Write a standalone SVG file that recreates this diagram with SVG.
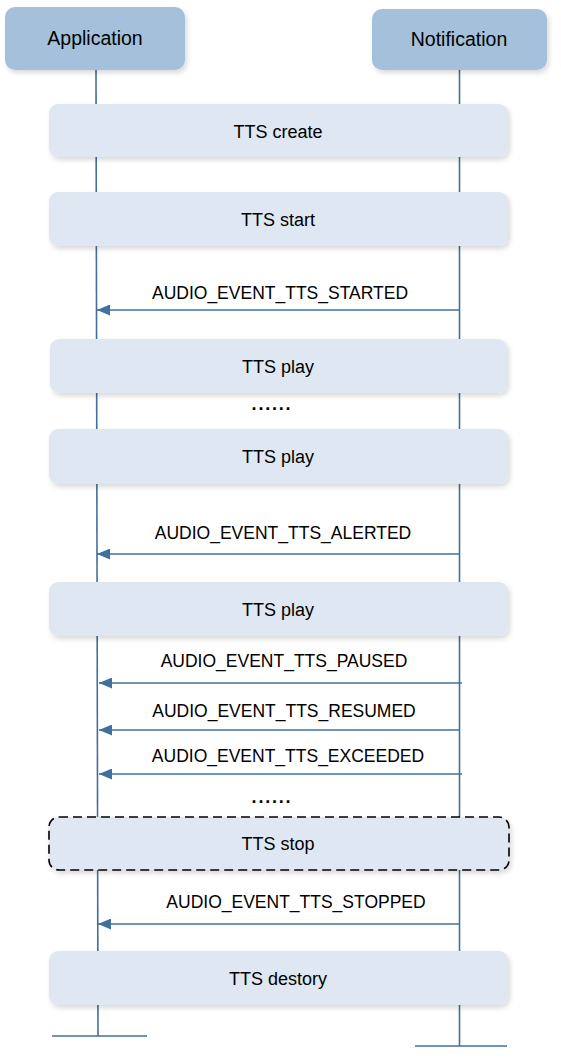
<svg xmlns="http://www.w3.org/2000/svg" width="561" height="1063" viewBox="0 0 561 1063">
<style>
.hdr{fill:#a4c0da;}
.act{fill:#dfe8f2;}
.life{stroke:#41709c;stroke-width:1.6;fill:none;}
.msg{stroke:#41709c;stroke-width:1.6;fill:none;}
text{font-family:"Liberation Sans",Arial,sans-serif;fill:#000;text-anchor:middle;}
.ht{font-size:19.5px;}
.at{font-size:18px;}
.mt{font-size:17.5px;}
.dots{font-size:18px;font-weight:bold;letter-spacing:1.8px;}
</style>
<defs>
<filter id="sh" x="-10%" y="-20%" width="120%" height="150%">
<feDropShadow dx="2" dy="3" stdDeviation="2.5" flood-color="#000" flood-opacity="0.15"/>
</filter>
<marker id="arr" viewBox="0 0 13 11" refX="13" refY="5.5" markerWidth="13" markerHeight="11" markerUnits="userSpaceOnUse" orient="auto">
<path d="M0,0 L13,5.5 L0,11 Z" fill="#41709c"/>
</marker>
</defs>
<g id="lifelines">
<line class="life" x1="96" y1="70" x2="98" y2="1036"/>
<line class="life" x1="459.5" y1="70" x2="459.5" y2="1046"/>
<line class="life" x1="52" y1="1036" x2="147" y2="1036"/>
<line class="life" x1="415" y1="1046" x2="507" y2="1046"/>
</g>
<g id="application">
<rect class="hdr" x="5" y="7" width="180" height="63" rx="10" filter="url(#sh)"/>
<text class="ht" x="95" y="45">Application</text>
</g>
<g id="notification">
<rect class="hdr" x="372" y="9" width="175" height="61" rx="10" filter="url(#sh)"/>
<text class="ht" x="459" y="46">Notification</text>
</g>
<g id="tts-create">
<rect class="act" x="49" y="104" width="459" height="53" rx="9" filter="url(#sh)"/>
<text class="at" x="278" y="138">TTS create</text>
</g>
<g id="tts-start">
<rect class="act" x="49" y="192" width="459" height="54" rx="9" filter="url(#sh)"/>
<text class="at" x="278" y="226">TTS start</text>
</g>
<g id="tts-play-1">
<rect class="act" x="50" y="339" width="457" height="54" rx="9" filter="url(#sh)"/>
<text class="at" x="278" y="373">TTS play</text>
</g>
<g id="tts-play-2">
<rect class="act" x="49" y="429" width="459" height="55" rx="9" filter="url(#sh)"/>
<text class="at" x="278" y="463">TTS play</text>
</g>
<g id="tts-play-3">
<rect class="act" x="49" y="582" width="459" height="54" rx="9" filter="url(#sh)"/>
<text class="at" x="278" y="616">TTS play</text>
</g>
<g id="tts-stop">
<rect class="act" x="49" y="817" width="460" height="53" rx="10" stroke="#000" stroke-width="1.6" stroke-dasharray="9,5" filter="url(#sh)"/>
<text class="at" x="278" y="850">TTS stop</text>
</g>
<g id="tts-destory">
<rect class="act" x="49" y="951" width="459" height="54" rx="9" filter="url(#sh)"/>
<text class="at" x="278" y="985">TTS destory</text>
</g>
<g id="connectors">
<line class="msg" x1="459" y1="310" x2="97" y2="310" marker-end="url(#arr)"/>
<line class="msg" x1="459" y1="554" x2="97" y2="554" marker-end="url(#arr)"/>
<line class="msg" x1="462" y1="683" x2="99" y2="683" marker-end="url(#arr)"/>
<line class="msg" x1="459" y1="730" x2="99" y2="730" marker-end="url(#arr)"/>
<line class="msg" x1="462" y1="774" x2="99" y2="774" marker-end="url(#arr)"/>
<line class="msg" x1="459" y1="924" x2="98" y2="924" marker-end="url(#arr)"/>
</g>
<g id="labels">
<text class="mt" x="280" y="299">AUDIO_EVENT_TTS_STARTED</text>
<text class="mt" x="283" y="539">AUDIO_EVENT_TTS_ALERTED</text>
<text class="mt" x="284" y="667">AUDIO_EVENT_TTS_PAUSED</text>
<text class="mt" x="284" y="717">AUDIO_EVENT_TTS_RESUMED</text>
<text class="mt" x="288" y="762">AUDIO_EVENT_TTS_EXCEEDED</text>
<text class="mt" x="296" y="908">AUDIO_EVENT_TTS_STOPPED</text>
<text class="dots" x="272" y="410">......</text>
<text class="dots" x="272" y="803">......</text>
</g>
</svg>
